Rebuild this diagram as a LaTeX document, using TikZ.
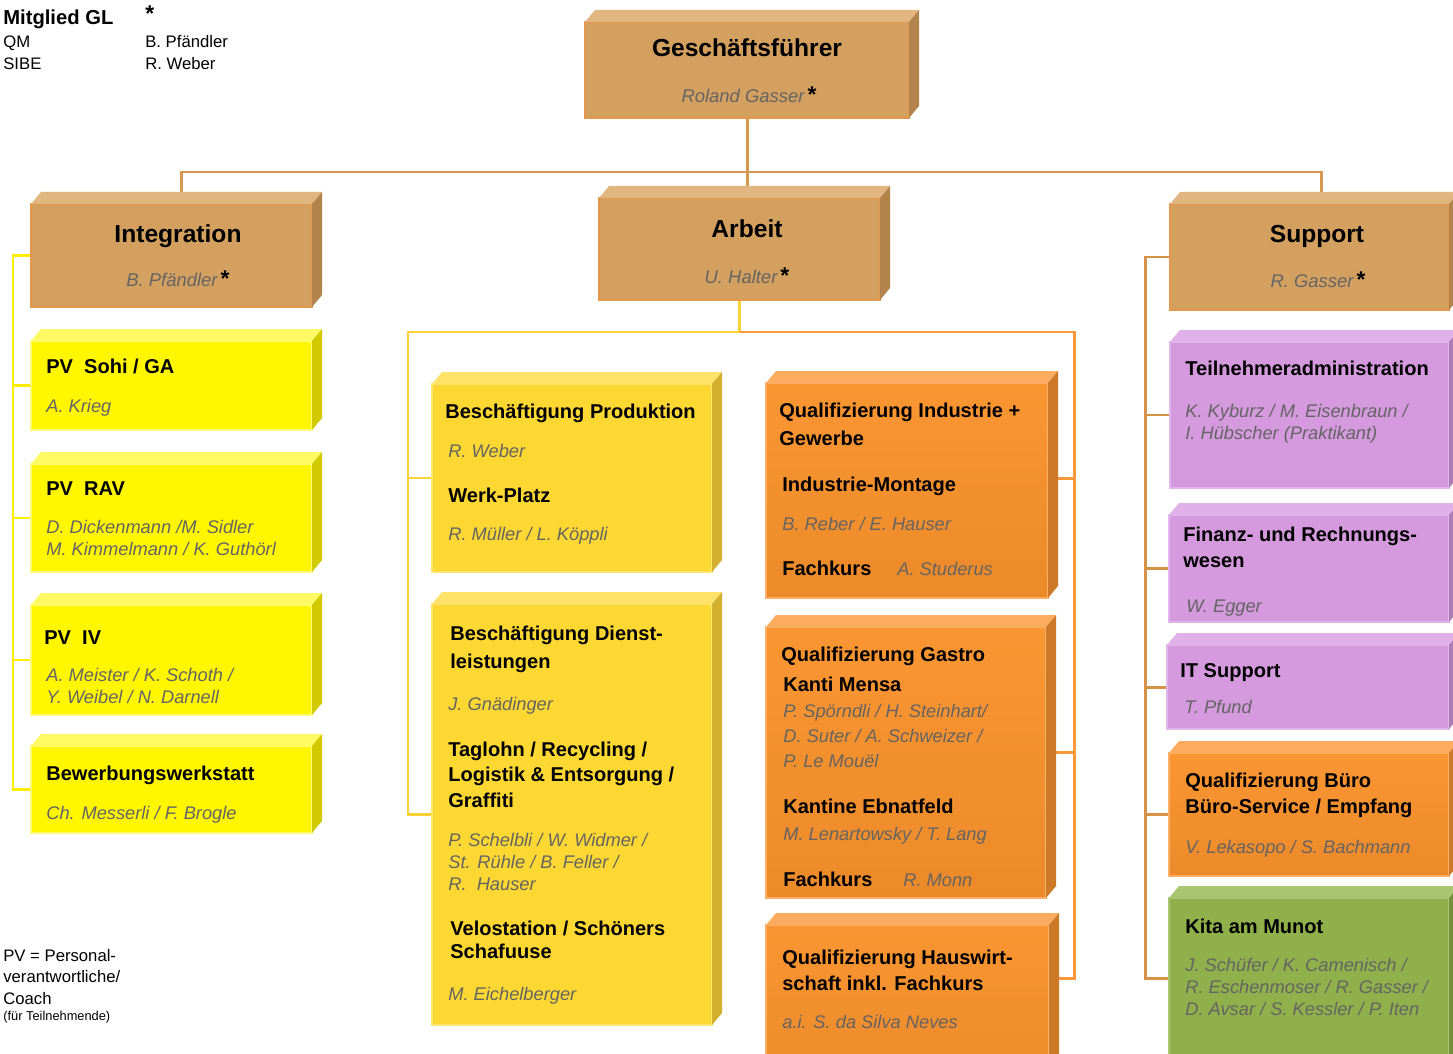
\documentclass[tikz,border=0pt]{standalone}
\usepackage{fontspec}
\setmainfont{Liberation Sans}
\usepackage{xcolor}
\usetikzlibrary{positioning,fit,calc}

\definecolor{tanfront}{RGB}{212,160,96}
\definecolor{tantop}{RGB}{225,182,128}
\definecolor{tanside}{RGB}{178,131,74}
\definecolor{tanedge}{RGB}{228,152,78}
\definecolor{yelfront}{RGB}{255,246,0}
\definecolor{yeltop}{RGB}{255,250,100}
\definecolor{yelside}{RGB}{210,202,0}
\definecolor{yeledge}{RGB}{255,250,120}
\definecolor{goldfront}{RGB}{253,215,50}
\definecolor{goldtop}{RGB}{254,226,105}
\definecolor{goldside}{RGB}{210,176,45}
\definecolor{goldedge}{RGB}{255,228,110}
\definecolor{orfront}{RGB}{250,150,50}
\definecolor{orbottom}{RGB}{236,138,42}
\definecolor{ortop}{RGB}{252,172,95}
\definecolor{orside}{RGB}{205,122,40}
\definecolor{oredge}{RGB}{252,175,105}
\definecolor{vifront}{RGB}{213,153,222}
\definecolor{vitop}{RGB}{224,176,232}
\definecolor{viside}{RGB}{172,124,182}
\definecolor{viedge}{RGB}{226,182,236}
\definecolor{grfront}{RGB}{143,176,74}
\definecolor{grtop}{RGB}{168,197,112}
\definecolor{grside}{RGB}{115,145,58}
\definecolor{gredge}{RGB}{170,198,112}
\definecolor{namegray}{RGB}{100,100,100}
\definecolor{brownline}{RGB}{214,152,80}
\definecolor{yelline}{RGB}{255,238,0}
\definecolor{goldline}{RGB}{250,210,55}
\definecolor{orline}{RGB}{247,152,60}
\definecolor{supline}{RGB}{214,146,70}

\pgfdeclarelayer{bg}
\pgfsetlayers{bg,main}

% member of GL marker
\newcommand{\gl}{\,{\color{black}\upshape\bfseries\fontsize{13}{13}\selectfont *}}

% box with top and side face: name, x1, y1, x2, y2, front style, top colour, side colour
\newcommand{\cubebox}[8]{%
  \node[box, fit={(#2,#3) (#4,#5)}, #6] (#1) {};
  \fill[#7] (#1.north west) -- ++(10,-12) -- ([shift={(10,-12)}]#1.north east) -- (#1.north east) -- cycle;
  \fill[#8] (#1.north east) -- ++(10,-12) -- ([shift={(10,-12)}]#1.south east) -- (#1.south east) -- cycle;
}

\tikzset{
  box/.style={inner sep=0pt, outer sep=0pt, line width=0.7pt},
  tanbox/.style={box, fill=tanfront, draw=tanedge},
  yelbox/.style={box, fill=yelfront, draw=yeledge},
  goldbox/.style={box, fill=goldfront, draw=goldedge},
  orbox/.style={box, top color=orfront, bottom color=orbottom, draw=oredge},
  vibox/.style={box, fill=vifront, draw=viedge},
  grbox/.style={box, fill=grfront, draw=gredge},
  big/.style={font=\bfseries\fontsize{14}{17}\selectfont, anchor=base, inner sep=0pt},
  bigname/.style={font=\itshape\fontsize{10.5}{12.5}\selectfont, text=namegray, anchor=base, inner sep=0pt},
  ttl/.style={font=\bfseries\fontsize{11.4}{14.5}\selectfont, anchor=base west, align=left, inner sep=0pt},
  nm/.style={font=\itshape\fontsize{10.4}{12.5}\selectfont, text=namegray, anchor=base west, align=left, inner sep=0pt},
  leg/.style={font=\fontsize{9.5}{12}\selectfont, anchor=base west, align=left, inner sep=0pt},
  conn/.style={line width=1.7pt}
}

\begin{document}
\begin{tikzpicture}[x=0.02cm, y=-0.02cm]
  \useasboundingbox (0,0) rectangle (1453,1054);
  \clip (0,0) rectangle (1453,1054);

  % legend (multi-line nodes sit on the baseline of their last line)
  \node[leg, font=\bfseries\fontsize{11.5}{14}\selectfont] (glhead) at (3,25) {Mitglied GL};
  \node[leg, font=\bfseries\fontsize{13}{13}\selectfont] (glstar) at (145,22) {*};
  \node[leg] (qm) at (3,48) {QM};
  \node[leg] (sibe) at (3,70) {SIBE};
  \node[leg] (qmname) at (145,48) {B. Pfändler};
  \node[leg] (sibename) at (145,70) {R. Weber};
  \node[leg] (pvnote) at (3,1004) {PV = Personal-\\verantwortliche/\\Coach};
  \node[leg, font=\fontsize{7.3}{9}\selectfont] (pvsmall) at (3,1020) {(für Teilnehmende)};

  % management
  \cubebox{gf}{585}{22}{909}{118}{tanbox}{tantop}{tanside}
  \node[big] (gf-t) at (747,57) {Geschäftsführer};
  \node[bigname] (gf-n) at (749,103) {Roland Gasser\gl};

  \cubebox{integ}{31}{204}{312}{307}{tanbox}{tantop}{tanside}
  \node[big] (integ-t) at (178,242) {Integration};
  \node[bigname] (integ-n) at (178,286) {B. Pfändler\gl};

  \cubebox{arb}{599}{198}{880}{300}{tanbox}{tantop}{tanside}
  \node[big] (arb-t) at (747,237) {Arbeit};
  \node[bigname] (arb-n) at (747,283) {U. Halter\gl};

  \cubebox{supp}{1170}{204}{1449}{310}{tanbox}{tantop}{tanside}
  \node[big] (supp-t) at (1317,242) {Support};
  \node[bigname] (supp-n) at (1318,287) {R. Gasser\gl};

  % Integration
  \cubebox{sohi}{31}{341}{312}{430}{yelbox}{yeltop}{yelside}
  \node[ttl] (sohi-t) at (46,373) {PV\ \ Sohi / GA};
  \node[nm] (sohi-n) at (46,412) {A. Krieg};

  \cubebox{rav}{31}{464}{312}{572}{yelbox}{yeltop}{yelside}
  \node[ttl] (rav-t) at (46,495) {PV\ \ RAV};
  \node[nm] (rav-n) at (46,555) {D. Dickenmann /M. Sidler\\M. Kimmelmann / K. Guthörl};

  \cubebox{iv}{31}{605}{312}{715}{yelbox}{yeltop}{yelside}
  \node[ttl] (iv-t) at (44,644) {PV\ \ IV};
  \node[nm] (iv-n) at (46,703) {A. Meister / K. Schoth /\\Y. Weibel / N. Darnell};

  \cubebox{bew}{31}{746}{312}{833}{yelbox}{yeltop}{yelside}
  \node[ttl] (bew-t) at (46,780) {Bewerbungswerkstatt};
  \node[nm] (bew-n) at (46,819) {Ch. Messerli / F. Brogle};

  % Arbeit, Beschaeftigung
  \cubebox{prod}{432}{384}{712}{572}{goldbox}{goldtop}{goldside}
  \node[ttl] (prod-t) at (445,418) {Beschäftigung Produktion};
  \node[nm] (prod-n) at (448,457) {R. Weber};
  \node[ttl] (werk-t) at (448,502) {Werk-Platz};
  \node[nm] (werk-n) at (448,540) {R. Müller / L. Köppli};

  \cubebox{dienst}{432}{604}{712}{1025}{goldbox}{goldtop}{goldside}
  \node[ttl] (dienst-t) at (450,668) {Beschäftigung Dienst-\\[1.4pt]leistungen};
  \node[nm] (dienst-n) at (448,710) {J. Gnädinger};
  \node[ttl] (tag-t) at (448,807) {Taglohn / Recycling /\\Logistik \& Entsorgung /\\Graffiti};
  \node[nm] (tag-n) at (448,890) {P. Schelbli / W. Widmer /\\St. Rühle / B. Feller /\\R.\ \ Hauser};
  \node[ttl] (velo-t) at (450,958) {Velostation / Schöners\\[-1.5pt]Schafuuse};
  \node[nm] (velo-n) at (448,1000) {M. Eichelberger};

  % Arbeit, Qualifizierung
  \cubebox{qind}{766}{383}{1048}{598}{orbox}{ortop}{orside}
  \node[ttl] (qind-t) at (779,445) {Qualifizierung Industrie +\\[1.4pt]Gewerbe};
  \node[ttl] (mont-t) at (782,491) {Industrie-Montage};
  \node[nm] (mont-n) at (782,530) {B. Reber / E. Hauser};
  \node[ttl] (qindfk-t) at (782,575) {Fachkurs};
  \node[nm] (qindfk-n) at (897,575) {A. Studerus};

  \cubebox{gastro}{766}{627}{1046}{898}{orbox}{ortop}{orside}
  \node[ttl] (gastro-t) at (781,661) {Qualifizierung Gastro};
  \node[ttl] (kanti-t) at (783,691) {Kanti Mensa};
  \node[nm] (kanti-n) at (783,767) {P. Spörndli / H. Steinhart/\\[1.6pt]D. Suter / A. Schweizer /\\[1.6pt]P. Le Mouël};
  \node[ttl] (ebnat-t) at (783,813) {Kantine Ebnatfeld};
  \node[nm] (ebnat-n) at (783,840) {M. Lenartowsky / T. Lang};
  \node[ttl] (gastrofk-t) at (783,886) {Fachkurs};
  \node[nm] (gastrofk-n) at (903,886) {R. Monn};

  \cubebox{haus}{766}{925}{1049}{1080}{orbox}{ortop}{orside}
  \node[ttl] (haus-t) at (782,990) {Qualifizierung Hauswirt-\\schaft inkl. Fachkurs};
  \node[nm] (haus-n) at (782,1028) {a.i. S. da Silva Neves};

  % Support
  \cubebox{teil}{1170}{342}{1449}{488}{vibox}{vitop}{viside}
  \node[ttl] (teil-t) at (1185,375) {Teilnehmeradministration};
  \node[nm] (teil-n) at (1185,439) {K. Kyburz / M. Eisenbraun /\\I. Hübscher (Praktikant)};

  \cubebox{fin}{1169}{515}{1449}{622}{vibox}{vitop}{viside}
  \node[ttl] (fin-t) at (1183,567) {Finanz- und Rechnungs-\\wesen};
  \node[nm] (fin-n) at (1186,612) {W. Egger};

  \cubebox{itsup}{1167}{645}{1449}{729}{vibox}{vitop}{viside}
  \node[ttl] (itsup-t) at (1180,677) {IT Support};
  \node[nm] (itsup-n) at (1184,713) {T. Pfund};

  \cubebox{buero}{1169}{753}{1449}{876}{orbox}{ortop}{orside}
  \node[ttl] (buero-t) at (1185,813) {Qualifizierung Büro\\Büro-Service / Empfang};
  \node[nm] (buero-n) at (1185,853) {V. Lekasopo / S. Bachmann};

  \cubebox{kita}{1169}{898}{1449}{1080}{grbox}{grtop}{grside}
  \node[ttl] (kita-t) at (1185,933) {Kita am Munot};
  \node[nm] (kita-n) at (1185,1015) {J. Schüfer / K. Camenisch /\\R. Eschenmoser / R. Gasser /\\D. Avsar / S. Kessler / P. Iten};

  % connectors behind the boxes
  \begin{pgfonlayer}{bg}
    \draw[conn, brownline] (gf.south) -- ++(0,54) coordinate (bus) -| ([shift={(10,0)}]integ.north);
    \draw[conn, brownline] (bus) -| ([shift={(12,0)}]supp.north);
    \draw[conn, brownline] (bus) -- (bus |- arb.north);

    \draw[conn, yelline] (integ.west) -- ++(-18,0) coordinate (intrail) |- (bew.west);
    \foreach \n in {sohi,rav,iv}
      \draw[conn, yelline] (intrail) |- (\n.west);

    \draw[conn, goldline] (arb.south) -- ++(0,32) coordinate (arbbus) -| ([shift={(-24,0)}]dienst.west) -- (dienst.west);
    \draw[conn, goldline] (prod.west) -- ++(-24,0);
    \coordinate (hausin) at ($(haus.north east)+(0,53)$);
    \draw[conn, orline] (arbbus) -| ([shift={(25,0)}]hausin) -- (hausin);
    \draw[conn, orline] ([shift={(0,-12)}]qind.east) -- ++(26,0);
    \draw[conn, orline] ([shift={(0,-10)}]gastro.east) -- ++(28,0);

    \coordinate (kitain) at ($(kita.north west)+(0,80)$);
    \draw[conn, supline] (supp.west) -- ++(-25,0) coordinate (suprail) |- (kitain);
    \foreach \n in {teil,fin,itsup,buero}
      \draw[conn, supline] (suprail) |- (\n.west);
  \end{pgfonlayer}
\end{tikzpicture}
\end{document}
